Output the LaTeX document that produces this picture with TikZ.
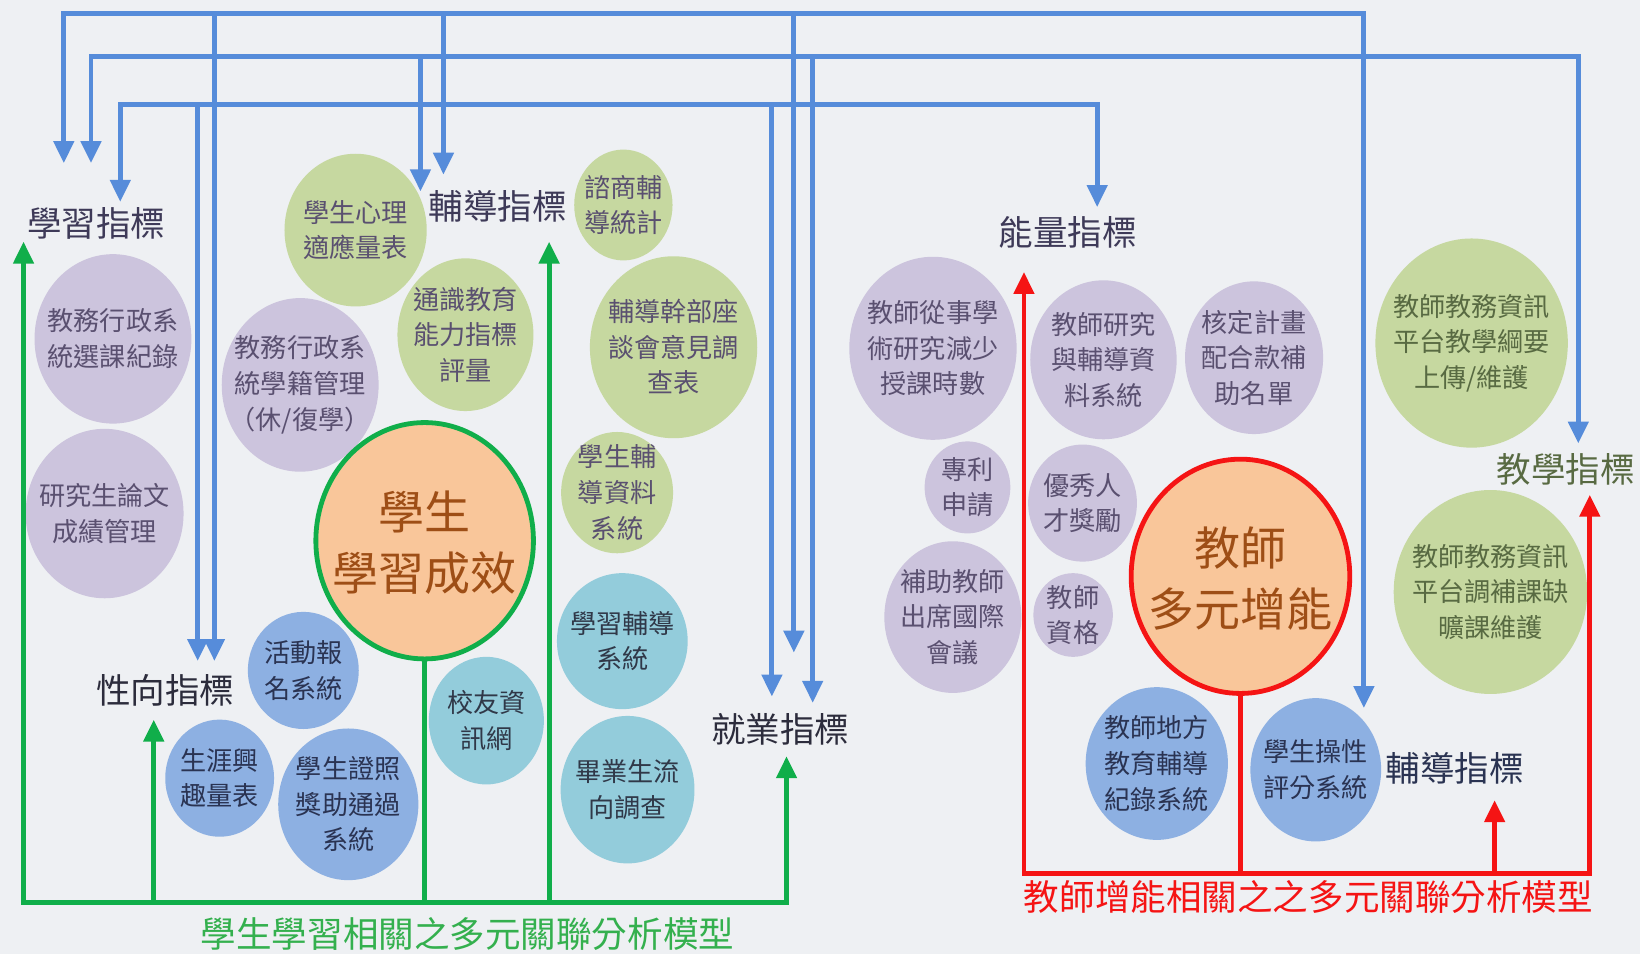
\documentclass[tikz,border=0pt]{standalone}
\usepackage{fontspec}
\setmainfont{Noto Sans CJK TC}
\usetikzlibrary{shapes.geometric,arrows.meta}
\definecolor{bgc}{RGB}{238,240,243}
\definecolor{purF}{RGB}{204,196,221}
\definecolor{grnF}{RGB}{198,216,160}
\definecolor{bluF}{RGB}{141,176,226}
\definecolor{tealF}{RGB}{147,204,219}
\definecolor{peach}{RGB}{249,198,154}
\definecolor{purT}{RGB}{90,80,112}
\definecolor{oliveT}{RGB}{88,106,66}
\definecolor{navyT}{RGB}{42,51,82}
\definecolor{tealT}{RGB}{48,56,72}
\definecolor{labT}{RGB}{62,58,88}
\definecolor{darkT}{RGB}{44,44,60}
\definecolor{brownT}{RGB}{158,78,22}
\definecolor{blueL}{RGB}{86,140,218}
\definecolor{greenL}{RGB}{16,174,74}
\definecolor{greenT}{RGB}{52,176,78}
\definecolor{redL}{RGB}{245,20,20}
\newcommand\mybub[7]{\node[#2, minimum width=#5pt, minimum height=#6pt] (#1) at (#3,#4) {};
  \node[#2txt] at (#1.center) {#7};}
\tikzset{
  bubshape/.style={ellipse, inner sep=0pt, draw=none},
  bubtext/.style={inner sep=0pt, align=center, font=\fontsize{25}{34}\selectfont},
  pur/.style={bubshape, fill=purF}, purtxt/.style={bubtext, text=purT},
  grn/.style={bubshape, fill=grnF}, grntxt/.style={bubtext, text=purT},
  grnb/.style={bubshape, fill=grnF}, grnbtxt/.style={bubtext, text=oliveT},
  blu/.style={bubshape, fill=bluF}, blutxt/.style={bubtext, text=navyT},
  teal/.style={bubshape, fill=tealF}, tealtxt/.style={bubtext, text=tealT},
  lab/.style={inner sep=0pt, font=\fontsize{33}{36}\selectfont, text=labT},
  bigtxt/.style={inner sep=0pt, align=center, font=\fontsize{44}{58}\selectfont, text=brownT},
  bl/.style={draw=blueL, line width=4.6pt},
  gl/.style={draw=greenL, line width=4.6pt},
  rl/.style={draw=redL, line width=4.6pt},
}
\begin{document}
\begin{tikzpicture}[x=1pt,y=-1pt,>={Triangle[width=19pt,length=21pt]}]
\fill[bgc] (0,0) rectangle (1568,912);
\useasboundingbox (0,0) rectangle (1568,912);

% left bubbles
\mybub{b1}{pur}{108}{324}{150}{162}{教務行政系\\統選課紀錄}
\mybub{b2}{pur}{100}{491}{151}{162}{研究生論文\\成績管理}
\mybub{b3}{grn}{340}{220}{136}{146}{學生心理\\適應量表}
\mybub{b4}{grn}{596}{196}{94}{106}{諮商輔\\導統計}
\mybub{b5}{grn}{445}{320}{130}{146}{通識教育\\能力指標\\評量}
\mybub{b6}{grn}{644}{332}{160}{174}{輔導幹部座\\談會意見調\\查表}
\mybub{b7}{pur}{287}{368}{150}{166}{教務行政系\\統學籍管理\\（休/復學）}
\mybub{b8}{grn}{590}{471}{107}{116}{學生輔\\導資料\\系統}
\mybub{b9}{teal}{595}{613}{125}{130}{學習輔導\\系統}
\mybub{b10}{teal}{600}{755}{128}{141}{畢業生流\\向調查}
\mybub{b11}{teal}{465}{689}{110}{122}{校友資\\訊網}
\mybub{b12}{blu}{290}{641}{106}{112}{活動報\\名系統}
\mybub{b13}{blu}{210}{744}{104}{112}{生涯興\\趣量表}
\mybub{b14}{blu}{333}{769}{134}{145}{學生證照\\獎助通過\\系統}
% right bubbles
\mybub{b15}{pur}{892}{333}{160}{175}{教師從事學\\術研究減少\\授課時數}
\mybub{b16}{pur}{1055}{344}{140}{152}{教師研究\\與輔導資\\料系統}
\mybub{b17}{pur}{1199}{342}{132}{146}{核定計畫\\配合款補\\助名單}
\mybub{b18}{pur}{925}{466}{82}{88}{專利\\申請}
\mybub{b19}{pur}{1035}{481}{104}{112}{優秀人\\才獎勵}
\mybub{b20}{pur}{911}{590}{131}{145}{補助教師\\出席國際\\會議}
\mybub{b21}{pur}{1026}{588}{76}{80}{教師\\資格}
\mybub{b22}{blu}{1106}{730}{136}{146}{教師地方\\教育輔導\\紀錄系統}
\mybub{b23}{blu}{1258}{736}{125}{137}{學生操性\\評分系統}
\mybub{b24}{grnb}{1407}{328}{184}{200}{教師教務資訊\\平台教學綱要\\上傳/維護}
\mybub{b25}{grnb}{1425}{566}{185}{195}{教師教務資訊\\平台調補課缺\\曠課維護}

% big circles
\node[ellipse, fill=peach, draw=greenL, line width=4.6pt, minimum width=208pt, minimum height=226pt, inner sep=0pt] (gbig) at (406,517) {};
\node[bigtxt] at (406,519) {學生\\學習成效};
\node[ellipse, fill=peach, draw=redL, line width=4.6pt, minimum width=209pt, minimum height=224pt, inner sep=0pt] (rbig) at (1186,551) {};
\node[bigtxt] at (1186,553) {教師\\多元增能};

% labels
\node[lab] (lxx) at (92,214) {學習指標};
\node[lab] (lfd) at (476,197) {輔導指標};
\node[lab, text=darkT] (lxing) at (158,660) {性向指標};
\node[lab, text=darkT] (ljy) at (746,697) {就業指標};
\node[lab] (lnl) at (1021,222) {能量指標};
\node[lab, text=oliveT] (ljx) at (1497,449) {教學指標};
\node[lab, text=navyT] (lfd2) at (1391,735) {輔導指標};
\node[inner sep=0pt, font=\fontsize{34}{38}\selectfont, text=greenT] (gtitle) at (447,893) {學生學習相關之多元關聯分析模型};
\node[inner sep=0pt, font=\fontsize{34}{38}\selectfont, text=redL] (rtitle) at (1251,858) {教師增能相關之之多元關聯分析模型};

% blue bus coordinates
\coordinate (yA) at (0,13);
\coordinate (yB) at (0,54);
\coordinate (yC) at (0,100);
\coordinate (tA1) at (61,156);
\coordinate (tA2) at (205,632);
\coordinate (tA3) at (424,167);
\coordinate (tA4) at (759,624);
\coordinate (tA5) at (1304,677);
\coordinate (tB1) at (87,156);
\coordinate (tB2) at (402,183);
\coordinate (tB3) at (777,672);
\coordinate (tB4) at (1509,424);
\coordinate (tC1) at (115,193);
\coordinate (tC2) at (189,632);
\coordinate (tC3) at (738,666);
\coordinate (tC4) at (1049,198);

\draw[bl, <->] (tA1) |- (tA5 |- yA) -- (tA5);
\draw[bl, ->] (tA2 |- yA) -- (tA2);
\draw[bl, ->] (tA3 |- yA) -- (tA3);
\draw[bl, ->] (tA4 |- yA) -- (tA4);

\draw[bl, <->] (tB1) |- (tB4 |- yB) -- (tB4);
\draw[bl, ->] (tB2 |- yB) -- (tB2);
\draw[bl, ->] (tB3 |- yB) -- (tB3);

\draw[bl, <->] (tC1) |- (tC4 |- yC) -- (tC4);
\draw[bl, ->] (tC2 |- yC) -- (tC2);
\draw[bl, ->] (tC3 |- yC) -- (tC3);

% green model
\coordinate (gy) at (0,863);
\coordinate (gt1) at (22.5,231);
\coordinate (gt2) at (147,688);
\coordinate (gt4) at (525,231);
\coordinate (gt5) at (752,723);
\draw[gl, <->] (gt1) |- (gt5 |- gy) -- (gt5);
\draw[gl, ->] (gt2 |- gy) -- (gt2);
\draw[gl, ->] (gt4 |- gy) -- (gt4);
\draw[gl] (gbig.south) -- (gbig.south |- gy);

% red model
\coordinate (ry) at (0,835);
\coordinate (rt1) at (979,260);
\coordinate (rt3) at (1429,765);
\coordinate (rt4) at (1520,473);
\draw[rl, <->] (rt1) |- (rt4 |- ry) -- (rt4);
\draw[rl, ->] (rt3 |- ry) -- (rt3);
\draw[rl] (rbig.south) -- (rbig.south |- ry);
\end{tikzpicture}
\end{document}
